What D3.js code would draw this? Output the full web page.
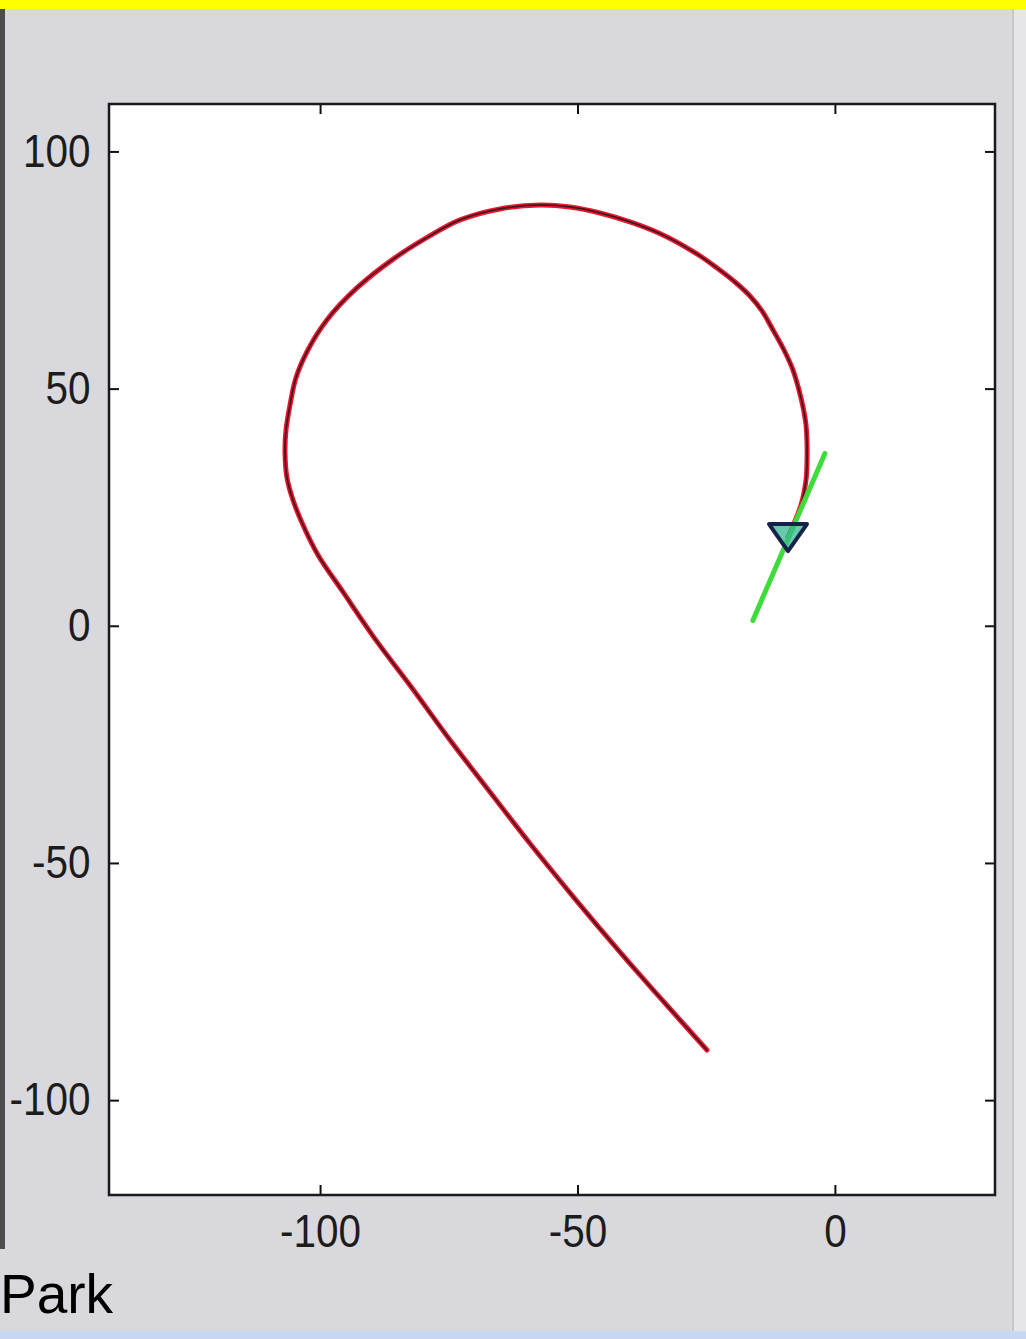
<!DOCTYPE html>
<html>
<head>
<meta charset="utf-8">
<script src="https://cdn.jsdelivr.net/npm/d3@7"></script>
<style>
  body { margin: 0; background: #d9d9dd; }
  svg { display: block; }
</style>
</head>
<body>
<div id="chart"></div>
<script>
// path of the vehicle (x, y)
var pathX = [-24.85, -33.20, -41.74, -50.29, -58.84, -67.00, -74.77, -82.15, -89.15, -95.55, -100.41,
             -103.32, -105.26, -106.42, -106.81, -106.62, -105.84, -104.70, -102.37, -98.68, -92.85, -85.80,
             -79.04, -72.82, -65.06, -57.28, -51.46, -45.63, -39.22, -33.00, -26.79, -22.90, -19.41, -16.49,
             -14.16, -12.02, -9.89, -8.14, -6.97, -6.19, -5.61, -5.42, -5.42, -5.61, -6.58, -9.11];
var pathY = [-89.44, -79.32, -68.78, -57.82, -46.43, -35.05, -24.08, -13.12, -3.02, 7.13, 14.93,
             21.25, 26.52, 31.16, 36.43, 41.28, 46.55, 52.24, 58.14, 64.47, 71.22, 77.30,
             81.97, 85.56, 87.88, 88.72, 88.30, 87.03, 84.92, 82.18, 78.38, 75.43, 72.48, 69.52,
             66.37, 62.36, 58.14, 53.92, 49.70, 46.12, 42.33, 38.53, 34.52, 30.73, 25.46, 18.71];

// heading line (green) and current position marker
var headX = [-15.94, -1.94];
var headY = [1.12, 36.33];
var markerX = [-9.11];
var markerY = [18.71];

var xTicks = [-100, -50, 0];
var yTicks = [100, 50, 0, -50, -100];

var W = 1026, H = 1339;
var box = { left: 109, right: 995, top: 104, bottom: 1195 };

var svg = d3.select('#chart').append('svg')
    .attr('width', W)
    .attr('height', H);

// window frame bits
svg.append('rect').attr('x', 0).attr('y', 0).attr('width', W).attr('height', H).attr('fill', '#d9d9dd');
svg.append('rect').attr('x', 0).attr('y', 0).attr('width', W).attr('height', 9).attr('fill', '#ffff00');
svg.append('rect').attr('x', 0).attr('y', 9).attr('width', 5).attr('height', 1240).attr('fill', '#4d4d4d');
svg.append('rect').attr('x', 1013).attr('y', 9).attr('width', 13).attr('height', 1322).attr('fill', '#e6e6ea');
svg.append('line').attr('x1', 1013).attr('x2', 1013).attr('y1', 9).attr('y2', 1331).attr('stroke', '#bdbdc2').attr('stroke-width', 1.5);
svg.append('rect').attr('x', 0).attr('y', 1331).attr('width', W).attr('height', 8).attr('fill', '#c8d8f2');

var x = d3.scaleLinear().domain([-141, 31.1]).range([box.left, box.right]);
var y = d3.scaleLinear().domain([-120, 110]).range([box.bottom, box.top]);

// plot area
svg.append('rect')
    .attr('x', box.left).attr('y', box.top)
    .attr('width', box.right - box.left).attr('height', box.bottom - box.top)
    .attr('fill', '#ffffff');

var fmt = function(d) { return String(d); };   // plain hyphen, like matlab

// bottom / top axes (ticks point inward)
var axB = svg.append('g').attr('transform', 'translate(0,' + box.bottom + ')')
    .call(d3.axisBottom(x).tickValues(xTicks).tickSizeInner(-10).tickSizeOuter(0).tickPadding(19).tickFormat(fmt));
var axT = svg.append('g').attr('transform', 'translate(0,' + box.top + ')')
    .call(d3.axisTop(x).tickValues(xTicks).tickSizeInner(-10).tickSizeOuter(0).tickFormat(''));
var axL = svg.append('g').attr('transform', 'translate(' + box.left + ',0)')
    .call(d3.axisLeft(y).tickValues(yTicks).tickSizeInner(-10).tickSizeOuter(0).tickPadding(21).tickFormat(fmt));
var axR = svg.append('g').attr('transform', 'translate(' + box.right + ',0)')
    .call(d3.axisRight(y).tickValues(yTicks).tickSizeInner(-10).tickSizeOuter(0).tickFormat(''));

[axB, axT, axL, axR].forEach(function(a) {
    a.select('.domain').remove();
    a.selectAll('line').attr('stroke', '#111').attr('stroke-width', 2);
    a.selectAll('text')
        .attr('fill', '#1c1c1c')
        .attr('transform', 'scale(0.88,1)')   // narrow digits
        .style('font-family', '"Liberation Sans", Arial, sans-serif')
        .style('font-size', '46px');
});
axB.selectAll('text').attr('dy', '0.71em');

// axes box
svg.append('rect')
    .attr('x', box.left).attr('y', box.top)
    .attr('width', box.right - box.left).attr('height', box.bottom - box.top)
    .attr('fill', 'none').attr('stroke', '#1a1a1a').attr('stroke-width', 2.5);

var pts = pathX.map(function(d, i) { return [d, pathY[i]]; });
var line = d3.line()
    .x(function(d) { return x(d[0]); })
    .y(function(d) { return y(d[1]); })
    .curve(d3.curveCatmullRom);

// red track with a dark core
svg.append('path').datum(pts).attr('d', line)
    .attr('fill', 'none').attr('stroke', '#f0142e').attr('stroke-width', 5).attr('stroke-linecap', 'round');
svg.append('path').datum(pts).attr('d', line)
    .attr('fill', 'none').attr('stroke', '#3e1a20').attr('stroke-width', 1.8).attr('stroke-linecap', 'round');

// heading
var head = headX.map(function(d, i) { return [d, headY[i]]; });
svg.append('path').datum(head).attr('d', d3.line().x(function(d) { return x(d[0]); }).y(function(d) { return y(d[1]); }))
    .attr('stroke', '#3ddc3a').attr('stroke-width', 5).attr('stroke-linecap', 'round').attr('fill', 'none');

// marker: downward triangle
svg.selectAll('.marker')
    .data(markerX.map(function(d, i) { return [d, markerY[i]]; }))
    .enter().append('path')
    .attr('class', 'marker')
    .attr('transform', function(d) { return 'translate(' + x(d[0]) + ',' + y(d[1]) + ')'; })
    .attr('d', 'M-19,-13 L19,-13 L0,14 Z')
    .attr('fill', '#34b890')
    .attr('fill-opacity', 0.75)
    .attr('stroke', '#17224a')
    .attr('stroke-width', 4)
    .attr('stroke-linejoin', 'round');

// label at the bottom
svg.append('text')
    .attr('x', 0).attr('y', 1313)
    .attr('fill', '#000')
    .style('font-family', '"Liberation Sans", Arial, sans-serif')
    .style('font-size', '55px')
    .text('Park');
</script>
</body>
</html>
